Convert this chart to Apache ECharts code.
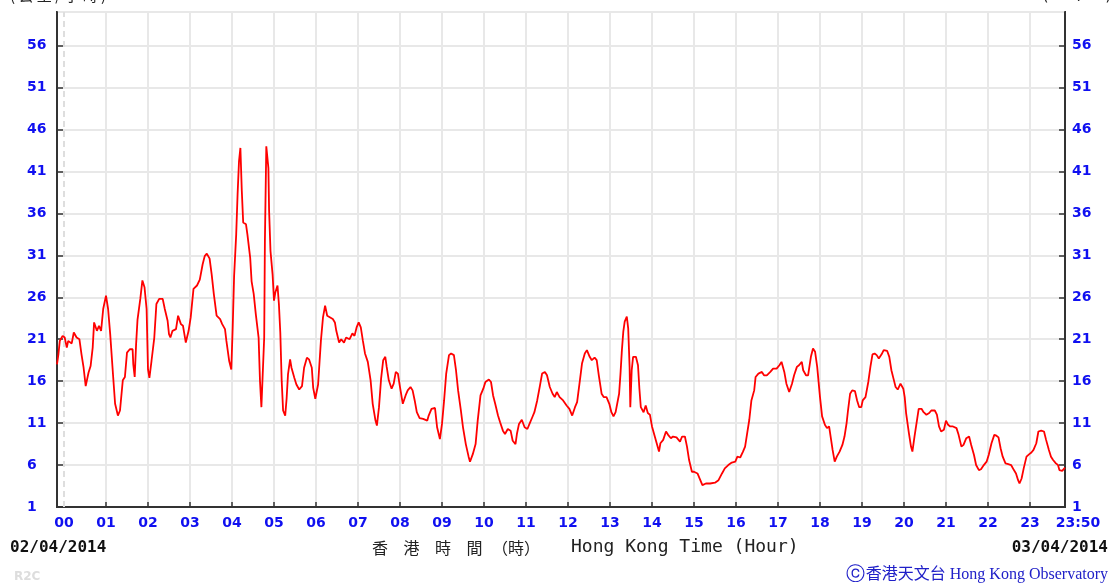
<!DOCTYPE html>
<html><head><meta charset="utf-8">
<script src="https://cdn.jsdelivr.net/npm/echarts@6/dist/echarts.min.js"></script>
<style>html,body{margin:0;padding:0;background:#fff}#c{width:1119px;height:586px}</style>
</head><body><div id="c"></div>
<script>
// time in minutes from 00:00 on 02/04/2014
const minutes = [-10,-8,-6,-2,1,4,6,11,14,18,22,25,28,31,35,38,41,43,47,50,53,56,60,63,66,70,73,77,80,84,87,90,94,98,99,101,103,105,109,112,115,118,120,122,125,129,132,136,141,144,148,150,152,155,160,163,167,170,174,178,181,185,190,194,198,201,204,208,211,214,218,223,226,230,232,236,239,241,243,246,248,250,252,254,256,260,262,266,268,271,274,278,280,282,284,286,287,289,290,292,293,295,298,300,302,305,307,309,311,313,316,318,320,323,325,329,332,336,340,343,347,350,354,356,359,361,363,367,370,373,376,
384,387,389,393,396,400,403,408,412,415,418,421,424,427,430,434,438,441,445,447,450,453,456,459,461,464,468,471,474,477,480,484,488,491,495,498,501,504,508,513,519,521,525,530,533,537,540,543,546,550,553,557,560,563,567,570,574,578,580,584,588,591,595,599,602,607,610,613,616,620,623,627,630,634,638,641,645,647,650,654,658,662,665,669,672,676,680,683,687,690,694,698,701,704,708,713,718,722,726,730,733,737,740,744,747,751,754,758,761,764,768,771,775,779,782,785,788,
793,795,797,799,801,804,806,808,809,811,813,817,820,822,824,828,831,834,837,840,844,848,850,852,856,860,863,867,870,875,880,883,887,890,893,897,900,905,909,912,917,923,930,935,940,944,949,954,959,962,966,970,973,976,979,982,986,988,992,997,1000,1004,1009,1013,1018,1022,1025,1029,1032,1036,1040,1043,1047,1050,1054,1056,1060,1063,1067,1070,1073,1076,1080,1083,1087,1090,1093,
1098,1101,1104,1108,1112,1115,1118,1120,1123,1126,1130,1133,1136,1139,1141,1145,1149,1152,1155,1158,1161,1164,1168,1171,1173,1176,1179,1182,1185,1188,1191,1195,1199,1201,1203,1207,1210,1212,1215,1219,1221,1225,1228,1232,1236,1239,1244,1247,1250,1253,1257,1260,1263,1266,1270,1275,1278,1282,1285,1289,1293,1296,1300,1303,1307,1310,1314,1318,1321,1325,1329,1332,1335,1338,1341,1345,1349,1353,1357,1360,1363,1365,1368,1371,1375,1379,1382,1385,1389,1392,1396,1400,1403,1407,1410,1413,1417,1420,1422,1426,1430];
// wind speed, km/h
const speed = [18.0,19.2,20.8,21.4,21.2,20.0,20.8,20.5,21.8,21.2,21.0,19.2,17.6,15.4,17.0,17.8,20.0,23.0,22.0,22.6,22.0,24.6,26.2,24.6,21.6,16.8,13.3,11.9,12.5,16.1,16.5,19.4,19.8,19.8,18.0,16.5,20.4,23.3,25.8,28.0,27.2,24.6,17.4,16.4,18.4,21.2,25.2,25.8,25.8,24.6,23.2,21.6,21.2,22.0,22.2,23.8,22.8,22.6,20.6,22.0,23.6,27.0,27.4,28.1,29.9,30.9,31.2,30.6,28.7,26.4,23.8,23.4,22.8,22.2,20.8,18.4,17.4,22.4,28.5,33.5,38.3,42.2,43.8,38.7,34.9,34.7,33.5,30.7,27.9,26.4,24.0,21.2,16.0,12.9,12.9,21.2,32.7,44.0,44.2,41.4,36.3,31.5,28.7,25.6,26.6,27.4,25.2,21.8,16.0,12.5,11.9,13.9,16.8,18.6,17.6,16.4,15.6,15.0,15.4,17.6,18.8,18.6,17.6,15.2,13.9,13.7,15.6,20.8,23.6,25.0,23.8,
23.4,23.0,22.0,20.6,21.0,20.6,21.2,21.0,21.7,21.4,22.4,23.0,22.4,20.8,19.3,18.3,16.1,13.3,11.3,10.7,12.9,16.3,18.5,18.9,17.7,16.1,15.1,15.7,17.1,16.9,15.3,13.3,14.3,14.9,15.3,14.9,13.7,12.3,11.6,11.5,11.3,11.9,12.7,12.8,10.5,9.1,10.9,13.7,16.9,19.1,19.3,19.1,17.3,14.9,12.5,10.5,8.5,7.0,6.4,7.3,8.5,11.3,14.3,15.1,15.9,16.2,15.9,14.3,13.3,11.9,11.1,10.1,9.7,10.3,10.1,8.9,8.5,9.7,10.9,11.4,10.5,10.3,10.9,11.7,12.3,13.7,15.5,16.9,17.1,16.7,15.3,14.5,14.1,14.7,14.1,13.7,13.1,12.7,11.9,12.9,13.5,16.1,18.1,19.3,19.7,18.9,18.5,18.8,18.5,16.7,14.5,14.1,14.1,13.3,12.3,11.8,12.3,
14.5,16.9,19.7,21.9,23.1,23.7,22.3,17.7,12.9,17.3,18.9,18.9,17.9,15.1,12.9,12.3,13.1,12.2,12.0,10.6,9.4,8.2,7.6,8.6,9.0,10.0,9.6,9.2,9.4,9.3,8.8,9.4,9.4,8.2,6.6,5.2,5.2,5.0,4.2,3.6,3.8,3.8,3.9,4.2,5.0,5.6,6.0,6.3,6.4,7.0,6.9,7.6,8.2,9.8,11.4,13.7,14.9,16.5,16.9,17.1,16.7,16.7,17.1,17.5,17.5,17.9,18.3,17.1,15.7,14.7,15.7,16.7,17.7,17.9,18.3,17.3,16.7,16.7,18.9,19.9,19.5,17.7,14.1,11.8,10.8,10.4,10.6,
7.8,6.4,7.0,7.6,8.4,9.4,11.0,12.5,14.5,14.9,14.8,13.7,12.9,12.9,13.7,14.1,15.9,17.7,19.2,19.3,19.1,18.7,19.2,19.7,19.9,19.6,18.9,17.3,16.3,15.3,15.0,15.7,15.1,14.1,12.2,9.8,8.2,7.6,9.4,11.6,12.7,12.7,12.3,12.0,12.2,12.5,12.5,12.0,10.6,10.0,10.2,11.3,10.8,10.6,10.6,10.4,9.6,8.2,8.4,9.2,9.4,8.4,7.2,6.0,5.4,5.5,6.0,6.4,7.2,8.6,9.6,9.5,9.3,8.0,7.0,6.2,6.1,6.0,5.4,5.0,4.2,3.8,4.4,5.6,7.0,7.3,7.5,7.8,8.6,10.0,10.1,10.0,9.0,7.8,7.0,6.6,6.2,6.0,5.4,5.3,5.7];
const hourMinutes = [60,120,180,240,300,360,420,480,540,600,660,720,780,840,900,960,1020,1080,1140,1200,1260,1320,1380];
const labelMinutes = [0,60,120,180,240,300,360,420,480,540,600,660,720,780,840,900,960,1020,1080,1140,1200,1260,1320,1380,1430];
const hourLabels = ['00','01','02','03','04','05','06','07','08','09','10','11','12','13','14','15','16','17','18','19','20','21','22','23','23:50'];
const titleChars = ['香','港','時','間'];

const data = minutes.map((m, i) => [m, speed[i]]);
const labelMap = {};
labelMinutes.forEach((m, i) => { labelMap[m] = hourLabels[i]; });

const BLUE = '#1010f0';
const labelFont = { color: BLUE, fontFamily: 'DejaVu Sans', fontWeight: 'bold', fontSize: 14 };

const chart = echarts.init(document.getElementById('c'), null, { renderer: 'canvas' });
const yCommon = {
  type: 'value', min: 1, max: 60, interval: 5,
  axisLine: { show: true, onZero: false, lineStyle: { color: '#333', width: 2 } },
  axisTick: { show: true, inside: true, length: 6, lineStyle: { color: '#333', width: 1.5 } },
  splitLine: { show: true, lineStyle: { color: '#e8e8e8', width: 2 } }
};
const charGraphics = titleChars.map((c, i) => ({
  type: 'text', left: 372 + i * 31.5, top: 540,
  style: { text: c, font: '16px "Noto Sans CJK TC"', fill: '#222' }
}));
chart.setOption({
  animation: false,
  backgroundColor: '#fff',
  grid: { left: 57, right: 54, top: 12, bottom: 79, show: true, borderColor: '#333', borderWidth: 2, containLabel: false },
  xAxis: {
    type: 'value', min: -10, max: 1430,
    axisLine: { show: true, onZero: false, lineStyle: { color: '#333', width: 2 } },
    axisTick: { show: true, inside: true, length: 5, customValues: hourMinutes, lineStyle: { color: '#333', width: 1.5 } },
    splitLine: { show: true, lineStyle: { color: '#e8e8e8', width: 2 } },
    axisLabel: Object.assign({}, labelFont, {
      customValues: labelMinutes, margin: 9,
      formatter: v => v === 1430 ? '{e|23:50}' : labelMap[v],
      rich: { e: Object.assign({}, labelFont, { padding: [0, 0, 0, 26] }) }
    })
  },
  yAxis: [
    Object.assign({}, yCommon, {
      position: 'left',
      axisLabel: Object.assign({}, labelFont, { align: 'left', margin: 30, showMaxLabel: false })
    }),
    Object.assign({}, yCommon, {
      position: 'right', splitLine: { show: false },
      axisLabel: Object.assign({}, labelFont, { align: 'left', margin: 7, showMaxLabel: false })
    })
  ],
  series: [
    {
      type: 'line', data: [[0, 1], [0, 60]], showSymbol: false, silent: true, z: 1,
      lineStyle: { color: '#dedede', type: [6, 4], width: 2 }
    },
    {
      type: 'line', data: data, showSymbol: false, yAxisIndex: 0, z: 3,
      lineStyle: { color: '#ff0000', width: 1.8 }
    }
  ],
  graphic: [
    { type: 'text', left: 10, top: -12, style: { text: '( 公 里 / 小 時 )', font: '15px "Noto Sans CJK TC"', fill: '#222' } },
    { type: 'text', right: 6, top: -11, style: { text: '( km/h )', font: '15px "DejaVu Sans Mono"', fill: '#222' } },
    { type: 'text', left: 10, top: 540, style: { text: '02/04/2014', font: 'bold 16px "DejaVu Sans Mono"', fill: '#111' } },
    { type: 'text', right: 11, top: 540, style: { text: '03/04/2014', font: 'bold 16px "DejaVu Sans Mono"', fill: '#111' } }
  ].concat(charGraphics).concat([
    { type: 'text', left: 492, top: 540, style: { text: '（時）', font: '16px "Noto Sans CJK TC"', fill: '#222' } },
    { type: 'text', left: 571, top: 538, style: { text: 'Hong Kong Time (Hour)', font: '18px "DejaVu Sans Mono"', fill: '#222' } },
    { type: 'text', left: 14, top: 571, style: { text: 'R2C', font: 'bold 12px "DejaVu Sans"', fill: '#dddddd' } },
    { type: 'text', left: 846, top: 566, style: { text: 'ⓒ', font: '19px "DejaVu Sans"', fill: '#2020c8' } },
    { type: 'text', right: 11, top: 567, style: { text: '香港天文台 Hong Kong Observatory', font: '16px "Liberation Serif", "Noto Sans CJK TC"', fill: '#2020c8' } }
  ])
});
</script></body></html>
